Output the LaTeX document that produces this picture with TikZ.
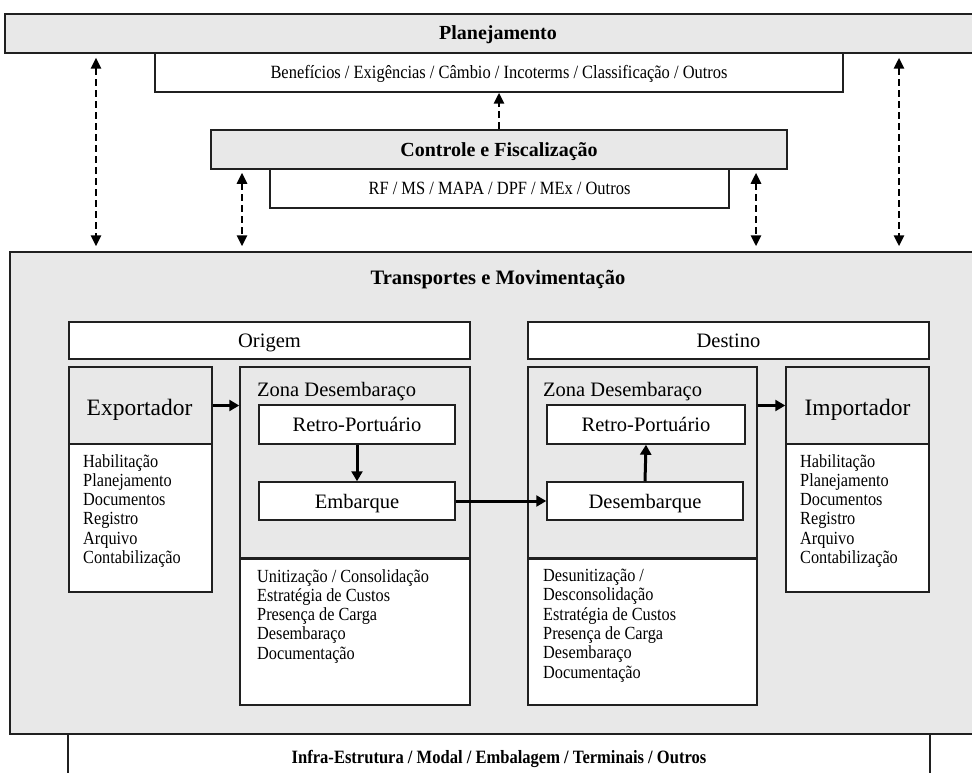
\documentclass[tikz,border=0pt]{standalone}
\usepackage{fontspec}
\setmainfont{Liberation Serif}
\newfontfamily\condf[FakeStretch=0.88]{Liberation Serif}
\usetikzlibrary{arrows.meta,fit}
\definecolor{boxgray}{HTML}{E8E8E8}
\definecolor{edge}{HTML}{202020}
\begin{document}
\begin{tikzpicture}[x=1pt,y=-1pt,
  box/.style={draw=edge, line width=1.5pt, inner sep=0pt, fill=white},
  gbox/.style={box, fill=boxgray},
  txt/.style={inner sep=0pt, anchor=base},
  title/.style={txt, font=\fontsize{20}{22}\selectfont\bfseries},
  mid/.style={txt, font=\fontsize{20.5}{22}\selectfont},
  big/.style={txt, font=\fontsize{23.5}{25}\selectfont},
  small/.style={txt, font=\condf\fontsize{18.7}{20}\selectfont},
  smallb/.style={txt, font=\condf\fontsize{18.8}{20}\selectfont\bfseries},
  list/.style={font=\condf\fontsize{18.5}{19.3}\selectfont, align=left, anchor=north west, inner sep=0pt},
  darr/.style={draw=black, line width=2.6pt, dash pattern=on 7pt off 4pt, {Triangle[length=11pt,width=10pt]}-{Triangle[length=11pt,width=10pt]}},
  uarr/.style={draw=black, line width=2.6pt, dash pattern=on 7pt off 4pt, -{Triangle[length=11pt,width=10pt]}},
  sarr/.style={draw=black, line width=3pt, -{Triangle[length=10pt,width=11pt]}},
]
\useasboundingbox (0,0) rectangle (972,773);
\clip (0,0) rectangle (972,773);

% top
\node[gbox, fit={(5,14) (995,53)}] (plan) {};
\node[title] (plant) at (498,40) {Planejamento};
\node[box, fit={(155,53) (843,92)}] (ben) {};
\node[small] (bent) at ([yshift=-6.2pt]ben.center) {Benefícios / Exigências / Câmbio / Incoterms / Classificação / Outros};
\node[gbox, fit={(211,130) (787,169)}] (ctrl) {};
\node[title] (ctrlt) at ([yshift=-6.6pt]ctrl.center) {Controle e Fiscalização};
\node[box, fit={(270,169) (729,208)}] (rf) {};
\node[small] (rft) at ([yshift=-6.2pt]rf.center) {RF / MS / MAPA / DPF / MEx / Outros};

% transport
\node[gbox, fit={(10,252) (995,734)}] (trans) {};
\node[title, font=\fontsize{20.5}{22}\selectfont\bfseries] (transt) at (498,284) {Transportes e Movimentação};
\node[box, fit={(68,734) (930,780)}] (infra) {};
\node[smallb] (infrat) at (499,763) {Infra-Estrutura / Modal / Embalagem / Terminais / Outros};

\node[box, fit={(69,322) (470,359)}] (origem) {};
\node[mid] (origemt) at ([yshift=-7pt]origem.center) {Origem};
\node[box, fit={(528,322) (929,359)}] (destino) {};
\node[mid] (destinot) at ([yshift=-7pt]destino.center) {Destino};

\node[gbox, fit={(69,367) (212,444)}] (exp) {};
\node[big] (expt) at ([xshift=-1pt,yshift=-10pt]exp.center) {Exportador};
\node[box, fit={(69,444) (212,592)}] (explist) {};
\node[list] (explt) at (83,454) {Habilitação\\Planejamento\\Documentos\\Registro\\Arquivo\\Contabilização};

\node[gbox, fit={(786,367) (929,444)}] (imp) {};
\node[big] (impt) at ([yshift=-10pt]imp.center) {Importador};
\node[box, fit={(786,444) (929,592)}] (implist) {};
\node[list] (implt) at (800,454) {Habilitação\\Planejamento\\Documentos\\Registro\\Arquivo\\Contabilização};

\node[gbox, fit={(240,367) (470,559)}] (zonaL) {};
\node[mid, anchor=base west] (zonaLt) at (257,396) {Zona Desembaraço};
\node[box, fit={(259,405) (455,444)}] (retroL) {};
\node[mid] (retroLt) at ([yshift=-7pt]retroL.center) {Retro-Portuário};
\node[box, fit={(259,482) (455,520)}] (embL) {};
\node[mid] (embLt) at ([yshift=-7pt]embL.center) {Embarque};
\node[box, fit={(240,559) (470,705)}] (zonaLlist) {};
\node[list] (zonaLtx) at (257,569) {Unitização / Consolidação\\Estratégia de Custos\\Presença de Carga\\Desembaraço\\Documentação};

\node[gbox, fit={(528,367) (757,559)}] (zonaR) {};
\node[mid, anchor=base west] (zonaRt) at (543,396) {Zona Desembaraço};
\node[box, fit={(547,405) (745,444)}] (retroR) {};
\node[mid] (retroRt) at ([yshift=-7pt]retroR.center) {Retro-Portuário};
\node[box, fit={(547,482) (743,520)}] (desR) {};
\node[mid] (desRt) at ([yshift=-7pt]desR.center) {Desembarque};
\node[box, fit={(528,559) (757,705)}] (zonaRlist) {};
\node[list] (zonaRtx) at (543,569) {Desunitização /\\Desconsolidação\\Estratégia de Custos\\Presença de Carga\\Desembaraço\\Documentação};

\draw[draw=edge, line width=3pt] (zonaLlist.north west) -- (zonaLlist.north east);
\draw[draw=edge, line width=3pt] (zonaRlist.north west) -- (zonaRlist.north east);

% dashed arrows
\coordinate (c1) at (96,0);
\coordinate (c2) at (242,0);
\coordinate (c3) at (756,0);
\coordinate (c4) at (899,0);
\draw[darr, shorten <=4pt, shorten >=5pt] (plan.south -| c1) -- (trans.north -| c1);
\draw[darr, shorten <=4pt, shorten >=5pt] (plan.south -| c4) -- (trans.north -| c4);
\draw[darr, shorten <=3pt, shorten >=5pt] (ctrl.south -| c2) -- (trans.north -| c2);
\draw[darr, shorten <=3pt, shorten >=5pt] (ctrl.south -| c3) -- (trans.north -| c3);
\draw[uarr] (ctrl.north) -- (ben.south);

% solid arrows
\draw[sarr] (exp.east) -- (zonaL.west |- exp.east);
\draw[sarr] (zonaR.east |- imp.west) -- (imp.west);
\draw[sarr] (retroL.south) -- (embL.north);
\draw[sarr] (desR.north) -- (retroR.south);
\draw[sarr] (embL.east) -- (desR.west);
\end{tikzpicture}
\end{document}
